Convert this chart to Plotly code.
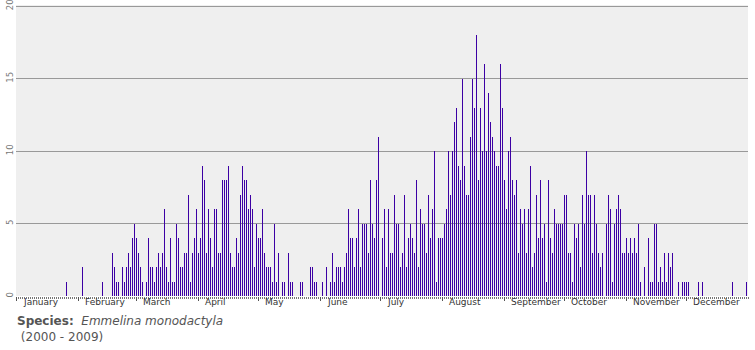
import plotly.graph_objects as go

months = ["January", "February", "March", "April", "May", "June",
          "July", "August", "September", "October", "November", "December"]

jan = [0]*25 + [1] + [0]*5
feb = [0,0,2,0,0,0,0,0,0,0,0,0,1,0,0,0,0,3,2,1,1,0,2,1,2,3,2,4,5]
mar = [4,3,2,1,0,1,4,2,2,1,2,3,2,3,6,2,1,4,1,1,5,4,2,2,3,3,7,1,3,4,6]
apr = [3,4,9,8,3,6,4,2,6,6,3,3,8,8,8,9,3,2,2,4,3,7,9,8,8,6,7,6,2,5]
may = [4,4,6,3,2,2,2,1,5,1,3,0,1,1,0,3,1,1,0,0,0,1,1,0,0,0,2,2,1,1,0]
jun = [0,1,0,2,0,1,3,1,2,2,2,1,2,3,6,4,4,2,4,6,2,5,5,5,3,8,5,4,8,11]
jul = [0,4,6,2,6,3,3,7,5,5,2,3,7,2,4,5,4,3,8,2,6,5,5,3,7,4,6,10,1,4,4]
aug = [4,5,6,10,7,10,12,13,9,8,15,9,7,7,11,15,13,18,8,13,10,16,10,14,12,11,10,9,9,16,13]
sep = [8,6,10,11,8,7,8,3,6,5,6,3,6,9,2,3,7,4,8,4,5,1,8,4,3,6,5,5,5,5]
oct_ = [7,7,3,3,1,5,4,5,2,7,5,10,7,7,3,7,5,3,2,3,0,5,7,6,1,5,6,7,6,3,3]
nov = [4,3,4,3,4,3,5,1,0,2,0,4,1,1,5,5,1,2,1,3,1,3,2,3,0,0,1,0,1,1]
dec = [1,1,0,0,0,0,1,0,1,0,0,0,0,0,0,0,0,0,0,0,0,0,0,1,0,0,0,0,0,0,1]

monthly = [jan, feb, mar, apr, may, jun, jul, aug, sep, oct_, nov, dec]
counts = [v for m in monthly for v in m]
days = list(range(len(counts)))

month_starts = []
s = 0
for m in monthly:
    month_starts.append(s)
    s += len(m)
n_days = s

y_ticks = [0, 5, 10, 15, 20]

fig = go.Figure()
fig.add_trace(go.Bar(
    x=[d + 0.25 for d in days], y=counts, width=0.5,
    marker=dict(color="#3c00a4", line=dict(width=0)),
    hoverinfo="y"))

for name, st in zip(months, month_starts):
    fig.add_annotation(x=st + 2.3, y=0.004, xref="x", yref="paper",
                       text=name, showarrow=False, xanchor="left", yanchor="top",
                       font=dict(family="DejaVu Sans", size=9, color="#333333"))

fig.add_annotation(x=-0.0014, y=-0.056, xref="paper", yref="paper",
                   text="<b>Species:</b>&nbsp;&nbsp;<i>Emmelina monodactyla</i><br>&nbsp;(2000 - 2009)",
                   showarrow=False, xanchor="left", yanchor="top", align="left",
                   font=dict(family="DejaVu Sans", size=12, color="#555555"))

fig.update_layout(
    width=755, height=350,
    margin=dict(l=16, r=7, t=5, b=54),
    paper_bgcolor="white", plot_bgcolor="#efefef",
    showlegend=False, bargap=0,
    xaxis=dict(range=[0, n_days], tickmode="array", tickvals=month_starts,
               showticklabels=False, ticks="outside", ticklen=4, tickcolor="#555555",
               showgrid=False, zeroline=False, showline=False, automargin=False,
               minor=dict(ticks="outside", ticklen=2, dtick=1, tick0=0,
                          tickcolor="#777777", showgrid=False)),
    yaxis=dict(range=[0, 20.07], tickmode="array", tickvals=y_ticks,
               tickangle=-90, ticks="", showgrid=True, gridcolor="#999999", gridwidth=1,
               zeroline=False, showline=False, ticklabeloverflow="allow", automargin=False,
               tickfont=dict(family="DejaVu Sans", size=8.5, color="#777777")),
)

fig.write_html("out.html")
